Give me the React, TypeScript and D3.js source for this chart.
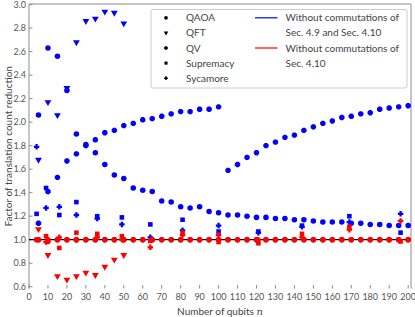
import * as d3 from "d3";

const W = 415;
const H = 317;
const plot = { left: 29, right: 411, top: 4, bottom: 288.5 };

const xTicks = [0, 10, 20, 30, 40, 50, 60, 70, 80, 90, 100, 110, 120, 130, 140, 150, 160, 170, 180, 190, 200];
const yTicks = [0.6, 0.8, 1.0, 1.2, 1.4, 1.6, 1.8, 2.0, 2.2, 2.4, 2.6, 2.8, 3.0];

// qubit counts
const stepN = [5, 10, 15, 20, 25, 30, 35, 40, 45, 50, 55, 60, 65, 70, 75, 80, 85, 90, 95, 100,
  105, 110, 115, 120, 125, 130, 135, 140, 145, 150, 155, 160, 165, 170, 175, 180, 185, 190, 195, 200];
const qftN = [5, 10, 15, 20, 25, 30, 35, 40, 45, 50];
const gridN = [4, 9, 16, 25, 36, 49, 64, 81, 100, 121, 144, 169, 196];

// blue: without commutations of Sec. 4.9 and Sec. 4.10
const qaoaBlue = [2.06, 2.63, 2.56, 2.27, 1.90, 1.81, 1.74, 1.64, 1.55, 1.52, 1.44, 1.42, 1.41, 1.33, 1.32, 1.28, 1.27, 1.28, 1.24, 1.23,
  1.21, 1.21, 1.20, 1.19, 1.19, 1.18, 1.18, 1.17, 1.17, 1.16, 1.15, 1.15, 1.15, 1.14, 1.14, 1.13, 1.13, 1.12, 1.12, 1.12];
const qvBlue = [1.14, 1.41, 1.53, 1.67, 1.73, 1.80, 1.85, 1.91, 1.93, 1.97, 1.99, 2.02, 2.03, 2.05, 2.07, 2.09, 2.09, 2.11, 2.11, 2.13,
  1.59, 1.64, 1.70, 1.74, 1.80, 1.83, 1.87, 1.89, 1.93, 1.96, 1.99, 2.01, 2.04, 2.05, 2.07, 2.08, 2.11, 2.12, 2.13, 2.14];
const qftBlue = [1.68, 2.17, 2.06, 2.29, 2.68, 2.86, 2.88, 2.94, 2.93, 2.84];
const supremacyBlue = [1.22, 1.44, 1.21, 1.32, 1.20, 1.19, 1.13, 1.17, 1.07, 1.07, 1.12, 1.20, 1.06];
const sycamoreBlue = [1.79, 1.27, 1.28, 1.21, 1.18, 1.13, 1.02, 1.08, 1.12, 1.06, 1.11, 1.15, 1.22];

// red: without commutations of Sec. 4.10
const qaoaRed = [1.0, 1.0, 1.0, 1.0, 1.0, 1.0, 1.0, 1.0, 1.0, 1.0, 1.0, 1.0, 1.0, 1.0, 1.0, 1.0, 1.0, 1.0, 1.0, 1.0,
  1.0, 1.0, 1.0, 1.0, 1.0, 1.0, 1.0, 1.0, 1.0, 1.0, 1.0, 1.0, 1.0, 1.0, 1.0, 1.0, 1.0, 1.0, 1.0, 1.0];
const qvRed = [1.0, 0.985, 1.0, 1.0, 1.0, 1.0, 1.0, 1.0, 1.0, 1.0, 1.0, 1.0, 1.0, 1.0, 1.0, 1.0, 1.0, 1.0, 1.0, 1.0,
  1.0, 1.0, 1.0, 1.0, 1.0, 1.0, 1.0, 1.0, 1.0, 1.0, 1.0, 1.0, 1.0, 1.0, 1.0, 1.0, 1.0, 1.0, 1.0, 1.0];
const qftRed = [1.09, 0.87, 0.69, 0.66, 0.69, 0.72, 0.70, 0.77, 0.83, 0.87];
const supremacyRed = [1.0, 1.03, 0.93, 1.06, 1.05, 1.03, 0.99, 1.06, 0.98, 0.97, 1.05, 1.11, 0.985];
const sycamoreRed = [1.0, 0.98, 1.02, 1.0, 1.02, 1.0, 0.935, 1.04, 1.04, 1.0, 1.02, 1.085, 1.16];

const BLUE = "#0000ff";
const RED = "#ff0000";

const octagon = {
  draw(ctx: any, size: number) {
    const r = Math.sqrt(size / 2.83);
    for (let i = 0; i < 8; i++) {
      const a = Math.PI / 8 + (i * Math.PI) / 4;
      const px = r * Math.cos(a), py = r * Math.sin(a);
      if (i === 0) ctx.moveTo(px, py); else ctx.lineTo(px, py);
    }
    ctx.closePath();
  },
};

// filled plus with thick arms
const thickPlus = {
  draw(ctx: any, size: number) {
    const h = Math.sqrt(size) / 2;
    const a = h * 0.42;
    const pts = [[-a, -h], [a, -h], [a, -a], [h, -a], [h, a], [a, a], [a, h], [-a, h], [-a, a], [-h, a], [-h, -a], [-a, -a]];
    pts.forEach(([px, py], i) => (i === 0 ? ctx.moveTo(px, py) : ctx.lineTo(px, py)));
    ctx.closePath();
  },
};

const shapes: Record<string, { type: any; size: number; rot: number }> = {
  QAOA: { type: d3.symbolCircle, size: 24, rot: 0 },
  QFT: { type: d3.symbolTriangle, size: 20, rot: 180 },
  QV: { type: octagon, size: 24, rot: 0 },
  Supremacy: { type: d3.symbolSquare, size: 21, rot: 0 },
  Sycamore: { type: thickPlus, size: 30, rot: 0 },
};

const legendNames = ["QAOA", "QFT", "QV", "Supremacy", "Sycamore"];

export default function App() {
  const x = d3.scaleLinear().domain([0, 201.5]).range([plot.left, plot.right]);
  const y = d3.scaleLinear().domain([0.585, 3.005]).range([plot.bottom, plot.top]);

  const series = [
    { name: "QAOA", n: stepN, v: qaoaBlue, c: BLUE },
    { name: "QV", n: stepN, v: qvBlue, c: BLUE },
    { name: "QFT", n: qftN, v: qftBlue, c: BLUE },
    { name: "Supremacy", n: gridN, v: supremacyBlue, c: BLUE },
    { name: "Sycamore", n: gridN, v: sycamoreBlue, c: BLUE },
    { name: "QAOA", n: stepN, v: qaoaRed, c: RED },
    { name: "QV", n: stepN, v: qvRed, c: RED },
    { name: "QFT", n: qftN, v: qftRed, c: RED },
    { name: "Supremacy", n: gridN, v: supremacyRed, c: RED },
    { name: "Sycamore", n: gridN, v: sycamoreRed, c: RED },
  ];

  const sym = (name: string, scale = 1) =>
    d3.symbol().type(shapes[name].type).size(shapes[name].size * scale)() as string;

  const font = "Lato, 'DejaVu Sans', sans-serif";
  const legX = 151, legY = 9.5, rowH = 15.1;

  return (
    <svg width={W} height={H} style={{ position: "absolute", left: 0, top: 0, background: "#fff" }}
      fontFamily={font}>
      {/* spines */}
      <line x1={plot.left} x2={plot.left} y1={plot.top} y2={plot.bottom} stroke="#8c8c8c" strokeWidth={1} />
      <line x1={plot.left} x2={plot.right} y1={plot.top} y2={plot.top} stroke="#8c8c8c" strokeWidth={1} />
      <line x1={plot.right} x2={plot.right} y1={plot.top} y2={plot.bottom} stroke="#8c8c8c" strokeWidth={1} />

      {yTicks.map((t) => (
        <g key={"y" + t}>
          <line x1={plot.left} x2={plot.left + 3.5} y1={y(t)} y2={y(t)} stroke="#8c8c8c" />
          <text x={plot.left - 3} y={y(t)} dy="0.35em" textAnchor="end" fontSize={9} fill="#555">
            {t.toFixed(1)}
          </text>
        </g>
      ))}
      {xTicks.map((t) => (
        <g key={"x" + t}>
          <line x1={x(t)} x2={x(t)} y1={plot.bottom} y2={plot.bottom - 3.5} stroke="#8c8c8c" />
          <text x={x(t)} y={plot.bottom + 8} dy="0.35em" textAnchor="middle" fontSize={9} fill="#555">
            {t}
          </text>
        </g>
      ))}

      <text x={(plot.left + plot.right) / 2} y={311} dy="0.35em" textAnchor="middle" fontSize={10} fill="#444">
        Number of qubits <tspan fontStyle="italic" fontFamily="'DejaVu Serif', serif">n</tspan>
      </text>
      <text transform={`translate(8,${(plot.top + plot.bottom) / 2}) rotate(-90)`} dy="0.35em"
        textAnchor="middle" fontSize={10} fill="#444">
        Factor of translation count reduction
      </text>

      {/* reference line at factor 1 */}
      <line x1={plot.left} x2={plot.right} y1={y(1)} y2={y(1)} stroke="#000" strokeWidth={1.2} />

      {series.map((s, si) =>
        s.n.map((n, i) => (
          <path key={si + "-" + i} d={sym(s.name)} fill={s.c}
            transform={`translate(${x(n)},${y(s.v[i])}) rotate(${shapes[s.name].rot})`} />
        ))
      )}

      {/* legend */}
      <rect x={legX} y={legY} width={256} height={78.5} rx={2} fill="#fff" fillOpacity={0.85}
        stroke="#cccccc" strokeWidth={1} />
      {legendNames.map((name, i) => (
        <g key={name}>
          <path d={sym(name, 0.45)} fill="#000"
            transform={`translate(${legX + 15},${legY + 8.3 + i * rowH}) rotate(${shapes[name].rot})`} />
          <text x={legX + 35} y={legY + 8.3 + i * rowH} dy="0.35em" fontSize={10} fill="#444">{name}</text>
        </g>
      ))}
      <line x1={255} x2={277.5} y1={legY + 8.3} y2={legY + 8.3} stroke={BLUE} strokeWidth={1.2} />
      <line x1={255} x2={277.5} y1={legY + 8.3 + 2 * rowH} y2={legY + 8.3 + 2 * rowH} stroke={RED} strokeWidth={1.2} />
      {["Without commutations of", "Sec. 4.9 and Sec. 4.10", "Without commutations of", "Sec. 4.10"].map((t, i) => (
        <text key={"l" + i} x={285.5} y={legY + 8.3 + i * rowH} dy="0.35em" fontSize={10} fill="#444">{t}</text>
      ))}
    </svg>
  );
}
